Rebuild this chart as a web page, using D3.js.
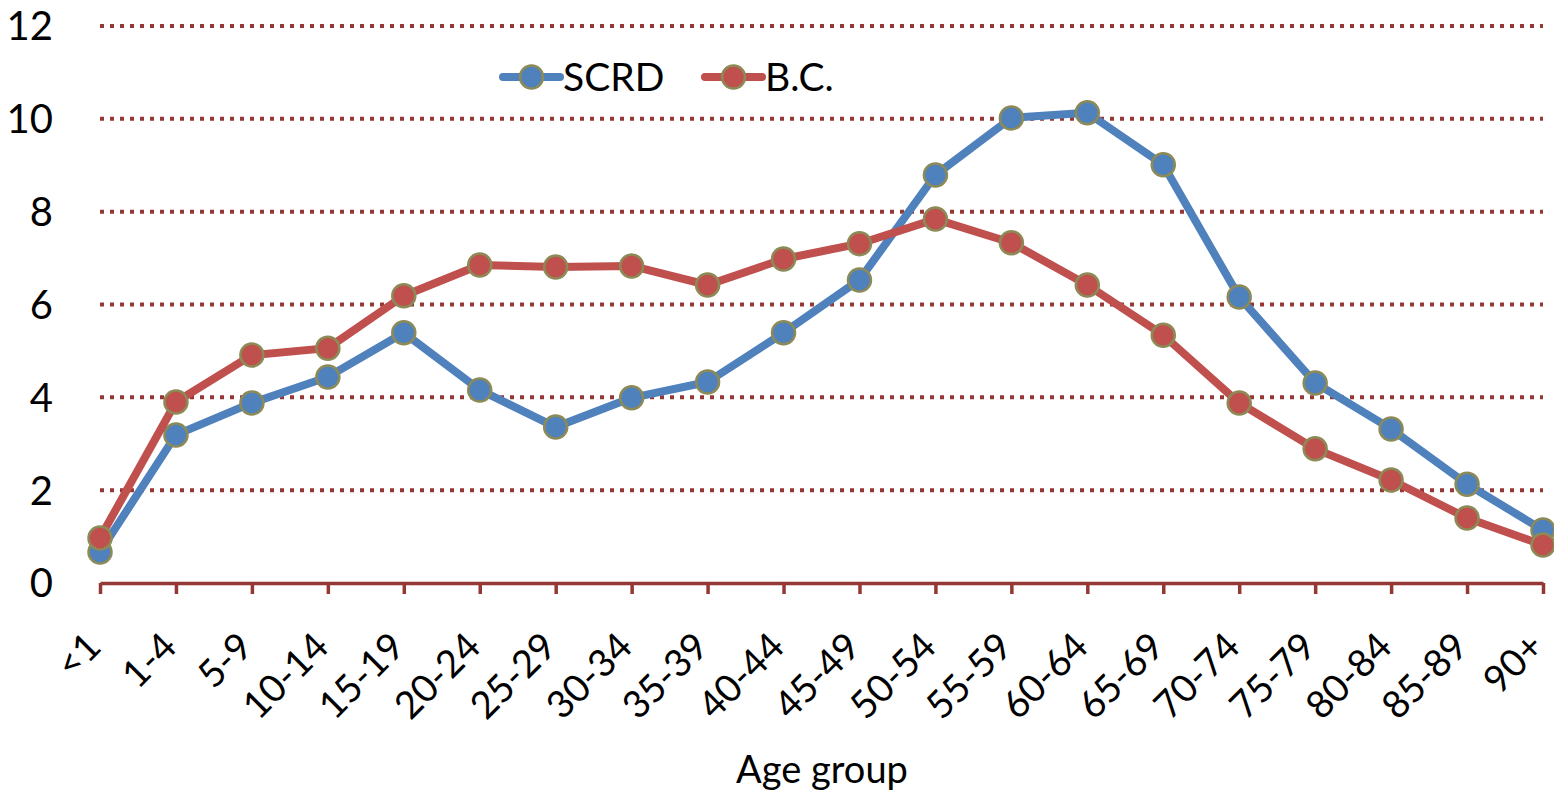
<!DOCTYPE html>
<html>
<head>
<meta charset="utf-8">
<script src="https://cdn.jsdelivr.net/npm/d3@7"></script>
<style>
  body { margin: 0; background: #fff; }
  text { font-family: Lato, "Open Sans", sans-serif; fill: #000; }
</style>
</head>
<body>
<div id="chart"></div>
<script>
var ageGroups = ["<1","1-4","5-9","10-14","15-19","20-24","25-29","30-34","35-39","40-44",
  "45-49","50-54","55-59","60-64","65-69","70-74","75-79","80-84","85-89","90+"];
var scrd = [0.67,3.19,3.88,4.44,5.39,4.16,3.36,3.99,4.33,5.39,
  6.53,8.79,10.02,10.13,9.01,6.16,4.31,3.32,2.13,1.14];
var bc = [0.97,3.90,4.91,5.06,6.19,6.85,6.81,6.83,6.42,6.98,
  7.31,7.84,7.33,6.42,5.34,3.88,2.89,2.22,1.40,0.82];
var yTicks = [0,2,4,6,8,10,12];
var seriesNames = ["SCRD","B.C."];

var width = 1554, height = 792;
var margin = {top: 26, right: 11, bottom: 209, left: 100};

var svg = d3.select("#chart").append("svg")
    .attr("width", width)
    .attr("height", height);

var x = d3.scalePoint()
    .domain(ageGroups)
    .range([margin.left, width - margin.right]);

var y = d3.scaleLinear()
    .domain([0, 12])
    .range([height - margin.bottom, margin.top]);

var gridColor = "#953735";

// dotted grid lines
svg.append("g")
  .selectAll("line")
  .data(yTicks.filter(function(d){ return d > 0; }))
  .enter().append("line")
    .attr("x1", margin.left)
    .attr("x2", width - margin.right)
    .attr("y1", function(d){ return y(d); })
    .attr("y2", function(d){ return y(d); })
    .attr("stroke", gridColor)
    .attr("stroke-width", 4)
    .attr("stroke-dasharray", "4,6");

// y labels
svg.append("g")
  .selectAll("text")
  .data(yTicks)
  .enter().append("text")
    .attr("x", 53)
    .attr("y", function(d){ return y(d); })
    .attr("dy", "0.36em")
    .attr("text-anchor", "end")
    .style("font-size", "40px")
    .text(function(d){ return d; });

// x axis
var xAxis = d3.axisBottom(x).tickSizeInner(11).tickSizeOuter(0).tickFormat("");
var gx = svg.append("g")
    .attr("transform", "translate(0," + y(0) + ")")
    .call(xAxis);
gx.select(".domain").attr("stroke", gridColor).attr("stroke-width", 3.5);
gx.selectAll(".tick line").attr("stroke", gridColor).attr("stroke-width", 3.5);

svg.append("g")
  .selectAll("text")
  .data(ageGroups)
  .enter().append("text")
    .attr("text-anchor", "end")
    .attr("transform", function(d){
      return "translate(" + (x(d) + 3) + "," + (y(0) + 66) + ") rotate(-45)";
    })
    .style("font-size", "38px")
    .text(function(d){ return d; });

svg.append("text")
    .attr("x", 822)
    .attr("y", 783)
    .attr("text-anchor", "middle")
    .style("font-size", "38px")
    .text("Age group");

var colors = ["#4F81BD", "#C0504D"];
var datasets = [scrd, bc];

var line = d3.line()
    .x(function(d, i){ return x(ageGroups[i]); })
    .y(function(d){ return y(d); });

datasets.forEach(function(data, k){
  var g = svg.append("g");
  g.append("path")
    .datum(data)
    .attr("d", line)
    .attr("fill", "none")
    .attr("stroke", colors[k])
    .attr("stroke-width", 8)
    .attr("stroke-linejoin", "round");
  g.selectAll("circle")
    .data(data)
    .enter().append("circle")
      .attr("cx", function(d, i){ return x(ageGroups[i]); })
      .attr("cy", function(d){ return y(d); })
      .attr("r", 11.5)
      .attr("fill", colors[k])
      .attr("stroke", "#8C8A56")
      .attr("stroke-width", 2.5);
});

// legend
var legend = svg.append("g")
  .selectAll("g")
  .data(seriesNames)
  .enter().append("g")
    .attr("transform", function(d, i){ return "translate(" + (503 + i * 202) + ",77)"; });

legend.append("line")
    .attr("x1", 0).attr("x2", 57)
    .attr("stroke", function(d, i){ return colors[i]; })
    .attr("stroke-width", 8)
    .attr("stroke-linecap", "round");
legend.append("circle")
    .attr("cx", 28.5)
    .attr("r", 11.5)
    .attr("fill", function(d, i){ return colors[i]; })
    .attr("stroke", "#8C8A56")
    .attr("stroke-width", 2.5);
legend.append("text")
    .attr("x", 60)
    .attr("dy", "0.36em")
    .style("font-size", "39px")
    .text(function(d){ return d; });
</script>
</body>
</html>
